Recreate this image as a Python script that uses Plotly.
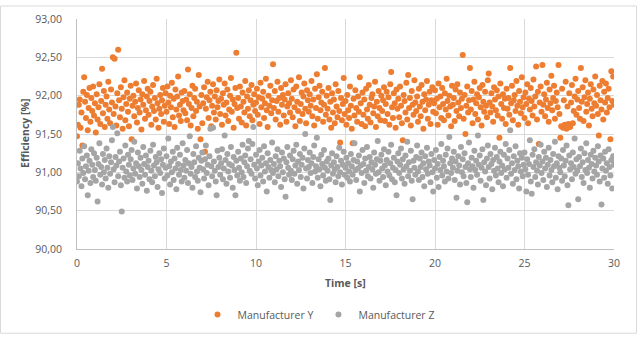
import numpy as np
import plotly.graph_objects as go

# ---- data ----
time_start = 0.0
time_end = 30.0

manufacturer_y = [
    91.47, 91.62, 91.88, 91.95, 91.58, 91.78, 91.35, 92.05, 92.24, 91.92, 91.71, 92.01, 91.55, 91.84, 92.10, 91.66, 91.97, 91.80, 92.12, 91.74,
    91.90, 91.52, 92.02, 91.69, 91.85, 92.15, 91.63, 91.93, 92.35, 91.77, 92.06, 91.59, 91.88, 91.99, 91.70, 92.18, 91.82, 91.64, 92.08, 91.91,
    92.50, 91.76, 92.48, 91.86, 91.61, 92.03, 92.60, 91.94, 91.72, 92.11, 91.83, 91.57, 91.98, 92.20, 91.68, 91.89, 92.04, 91.79, 91.60, 91.96,
    92.13, 91.43, 91.87, 92.00, 91.73, 91.92, 92.16, 91.65, 91.84, 92.07, 91.78, 91.95, 91.56, 92.02, 91.88, 92.19, 91.70, 91.81, 91.99, 92.09,
    91.75, 91.93, 92.05, 91.62, 91.86, 92.14, 91.80, 91.97, 91.69, 92.22, 91.90, 91.58, 91.83, 92.01, 91.76, 91.94, 92.10, 91.66, 91.87, 92.03,
    91.79, 92.12, 91.91, 91.63, 92.00, 91.85, 92.17, 91.72, 91.96, 91.59, 92.08, 91.82, 91.99, 92.25, 91.74, 91.88, 91.67, 92.04, 91.93, 91.81,
    92.06, 91.77, 91.95, 91.68, 92.34, 91.89, 92.02, 91.61, 91.84, 92.13, 91.73, 91.97, 92.09, 91.80, 91.92, 91.57, 92.27, 91.86, 91.43, 92.01,
    91.64, 91.90, 92.11, 91.27, 91.83, 91.98, 92.18, 91.71, 91.94, 92.05, 91.60, 91.87, 92.15, 91.78, 91.99, 91.69, 92.07, 91.85, 91.93, 92.21,
    91.76, 91.96, 91.62, 92.03, 91.88, 92.16, 91.74, 91.91, 92.08, 91.67, 91.82, 92.00, 92.23, 91.79, 91.95, 91.58, 91.89, 92.10, 92.56, 91.84,
    91.97, 91.70, 92.12, 91.86, 91.65, 92.04, 91.92, 91.78, 92.19, 91.61, 91.99, 91.83, 92.07, 91.73, 91.94, 92.14, 91.68, 91.88, 92.02, 91.80,
    91.91, 92.09, 91.75, 91.98, 91.63, 92.17, 91.85, 91.96, 92.05, 91.71, 91.90, 92.22, 91.81, 91.59, 92.00, 91.87, 92.13, 91.77, 91.94, 92.41,
    91.84, 92.06, 91.69, 91.93, 92.18, 91.79, 91.97, 91.62, 92.10, 91.88, 92.01, 91.74, 91.95, 92.15, 91.66, 91.86, 92.03, 91.90, 91.78, 92.20,
    91.96, 91.72, 92.08, 91.85, 91.60, 92.12, 91.92, 91.80, 92.24, 91.67, 91.89, 92.04, 91.76, 91.99, 92.16, 91.83, 91.64, 92.07, 91.94, 91.79,
    92.02, 91.87, 92.19, 91.73, 91.95, 91.61, 92.09, 91.84, 92.28, 91.70, 91.98, 92.13, 91.81, 91.91, 92.05, 91.66, 91.88, 92.36, 91.75, 92.00,
    91.83, 92.10, 91.69, 91.92, 91.58, 92.03, 91.78, 91.95, 91.64, 92.15, 91.86, 91.72, 92.06, 91.80, 91.39, 91.97, 91.68, 91.89, 92.23, 91.76,
    91.93, 91.62, 92.01, 91.81, 91.71, 92.12, 91.87, 91.57, 91.38, 91.96, 91.74, 92.07, 91.84, 91.66, 91.99, 91.79, 92.24, 91.90, 91.63, 92.04,
    91.75, 91.95, 91.60, 92.09, 91.82, 91.70, 92.14, 91.88, 91.65, 91.97, 92.02, 91.77, 91.86, 92.18, 91.59, 91.92, 91.73, 92.06, 91.84, 91.68,
    92.00, 91.80, 91.94, 92.11, 91.67, 91.89, 92.05, 91.76, 91.98, 91.62, 92.15, 92.31, 91.85, 91.71, 92.03, 91.90, 91.58, 92.08, 91.83, 91.96,
    91.72, 92.12, 91.87, 91.64, 91.42, 92.01, 91.93, 91.78, 92.17, 91.69, 92.27, 91.84, 91.97, 91.61, 92.06, 91.88, 91.75, 92.20, 91.91, 91.80,
    91.99, 91.66, 92.09, 91.86, 91.73, 92.14, 91.92, 91.57, 92.02, 91.81, 91.95, 92.19, 91.70, 91.88, 92.05, 91.63, 91.94, 92.11, 91.79, 91.90,
    92.07, 91.77, 91.96, 91.62, 92.16, 91.85, 91.99, 91.71, 92.10, 91.89, 91.68, 92.03, 91.82, 92.22, 91.93, 91.74, 92.00, 91.86, 91.60, 92.13,
    91.88, 91.97, 91.67, 92.08, 91.80, 92.15, 91.91, 91.73, 92.04, 91.84, 91.96, 92.53, 91.70, 92.01, 91.50, 91.87, 92.12, 91.78, 91.94, 92.36,
    91.82, 92.06, 91.64, 91.95, 92.18, 91.76, 91.90, 92.02, 91.69, 91.98, 92.10, 91.85, 91.61, 92.14, 91.92, 91.79, 92.05, 91.87, 91.72, 92.20,
    92.29, 91.91, 91.78, 92.03, 91.86, 91.66, 92.11, 91.95, 91.81, 92.07, 91.74, 91.99, 91.45, 92.16, 91.89, 91.70, 92.02, 91.84, 91.96, 91.63,
    92.09, 91.83, 91.97, 91.75, 92.36, 91.90, 92.13, 91.68, 91.94, 92.01, 91.80, 92.19, 91.87, 91.62, 92.06, 91.92, 91.77, 92.24, 91.85, 91.98,
    91.71, 92.04, 91.89, 92.15, 91.64, 91.96, 91.82, 92.10, 91.93, 91.74, 92.21, 91.86, 91.99, 92.38, 91.69, 92.05, 91.37, 91.91, 92.12, 91.79,
    92.40, 91.88, 92.02, 91.73, 91.95, 92.17, 91.84, 91.66, 92.08, 91.90, 92.26, 91.81, 91.97, 92.13, 91.70, 91.93, 92.04, 91.85, 92.40, 91.76,
    91.45, 91.60, 92.09, 91.58, 91.94, 91.62, 92.18, 91.57, 91.86, 91.63, 92.03, 91.59, 91.91, 92.14, 91.64, 91.80, 91.99, 92.22, 91.75, 91.95,
    92.06, 91.84, 91.70, 92.36, 91.92, 92.11, 91.67, 91.98, 92.20, 91.79, 91.89, 92.04, 91.61, 91.96, 92.15, 91.83, 91.73, 92.08, 91.90, 92.25,
    91.87, 92.01, 91.76, 91.48, 92.13, 91.94, 91.82, 92.19, 91.69, 92.05, 91.91, 92.16, 91.78, 91.97, 92.09, 91.85, 91.43, 92.32, 91.93, 92.25,
    91.88,
]

manufacturer_z = [
    90.88, 91.12, 90.95, 91.28, 91.05, 90.82, 91.18, 90.99, 91.34, 90.91, 91.08, 91.22, 90.70, 91.02, 91.15, 90.86, 91.30, 91.10, 90.94, 91.25,
    91.03, 90.89, 91.19, 90.62, 91.11, 91.38, 90.97, 91.07, 90.84, 91.24, 91.00, 91.16, 90.92, 91.31, 91.06, 90.80, 91.21, 90.98, 91.13, 91.42,
    91.59, 91.04, 90.87, 91.20, 91.09, 91.51, 90.95, 91.14, 91.27, 90.83, 90.49, 91.06, 91.18, 90.93, 91.35, 91.01, 90.88, 91.23, 91.10, 90.96,
    91.17, 91.29, 90.90, 91.05, 91.40, 90.98, 91.12, 90.79, 91.26, 91.08, 90.94, 91.19, 91.03, 90.85, 91.33, 91.11, 90.97, 91.22, 90.76, 91.07,
    91.15, 90.91, 91.28, 91.02, 90.87, 91.36, 91.09, 90.95, 91.20, 91.13, 90.81, 91.04, 91.25, 90.99, 91.17, 90.73, 91.10, 91.31, 90.92, 91.06,
    91.21, 90.96, 91.44, 91.08, 90.84, 91.14, 91.00, 91.27, 90.90, 91.18, 91.05, 90.78, 91.32, 91.11, 90.97, 91.23, 91.03, 90.88, 91.38, 91.09,
    90.93, 91.16, 91.02, 91.29, 90.86, 91.12, 91.47, 90.98, 91.07, 90.80, 91.24, 91.13, 90.94, 91.34, 91.01, 90.89, 91.19, 91.06, 90.74, 91.15,
    91.26, 91.04, 90.92, 91.17, 91.35, 90.99, 91.10, 90.83, 91.21, 91.57, 91.08, 90.95, 91.58, 91.14, 91.02, 90.88, 90.70, 91.28, 91.07, 91.19,
    90.97, 91.12, 91.30, 90.91, 91.05, 91.48, 91.16, 90.85, 91.24, 91.01, 91.11, 90.93, 91.33, 91.09, 90.80, 91.20, 91.03, 90.70, 91.15, 90.96,
    91.27, 91.06, 90.89, 91.18, 91.00, 91.36, 90.94, 91.13, 91.22, 90.86, 91.08, 91.31, 91.41, 91.02, 91.17, 90.98, 91.37, 91.59, 91.10, 90.92,
    91.23, 91.05, 90.83, 91.14, 91.29, 90.96, 91.09, 91.19, 90.88, 91.34, 91.01, 91.12, 90.75, 91.25, 91.07, 90.93, 91.16, 91.03, 91.39, 90.99,
    91.11, 90.87, 91.21, 91.04, 91.30, 90.95, 91.15, 91.08, 90.81, 91.26, 91.00, 91.18, 90.91, 90.68, 91.13, 91.33, 91.06, 90.97, 91.22, 91.02,
    90.90, 91.17, 91.28, 90.98, 91.09, 91.36, 90.85, 91.14, 91.03, 91.24, 90.94, 91.10, 91.19, 90.79, 91.31, 91.50, 91.05, 90.92, 91.16, 91.07,
    91.26, 90.99, 91.12, 90.86, 91.20, 91.35, 91.01, 91.08, 91.45, 90.93, 91.17, 91.04, 90.82, 91.23, 91.11, 90.96, 91.29, 91.06, 90.89, 91.14,
    91.02, 91.18, 90.91, 90.64, 91.09, 91.25, 90.98, 91.13, 91.04, 90.87, 91.21, 91.07, 90.95, 91.32, 91.00, 91.15, 90.84, 91.10, 91.27, 90.97,
    91.06, 91.19, 90.93, 91.12, 91.01, 90.88, 91.24, 91.08, 90.97, 91.16, 91.38, 91.03, 90.90, 91.14, 91.05, 91.22, 90.75, 91.09, 90.99, 91.29,
    91.11, 90.86, 91.18, 91.02, 91.33, 90.95, 91.07, 91.20, 90.92, 91.13, 91.04, 90.80, 91.26, 91.10, 90.98, 91.17, 91.41, 91.00, 90.89, 91.15,
    91.23, 91.05, 90.94, 91.30, 91.09, 90.83, 91.16, 91.01, 91.27, 90.96, 91.12, 91.36, 90.91, 91.06, 91.19, 90.87, 91.03, 90.70, 91.14, 91.25,
    90.99, 91.10, 91.31, 90.92, 91.17, 91.04, 90.85, 91.22, 91.08, 91.40, 90.95, 91.13, 91.02, 91.28, 90.89, 90.65, 91.15, 91.06, 90.97, 91.20,
    91.35, 91.01, 90.90, 91.18, 91.07, 91.26, 90.94, 91.12, 90.82, 91.21, 91.04, 91.32, 90.98, 91.14, 91.09, 90.87, 91.24, 91.00, 90.75, 91.16,
    91.05, 91.29, 90.93, 91.11, 90.81, 91.20, 91.03, 91.37, 90.96, 91.15, 91.08, 90.88, 91.23, 91.01, 91.31, 90.92, 91.46, 91.12, 90.99, 91.18,
    91.06, 91.27, 90.90, 91.14, 90.67, 91.02, 91.21, 91.09, 90.84, 91.33, 91.00, 91.17, 90.95, 91.25, 91.07, 90.86, 90.61, 91.12, 91.39, 91.04,
    90.94, 91.19, 91.08, 90.80, 91.28, 91.03, 91.15, 90.97, 91.48, 91.10, 91.22, 90.89, 91.06, 91.30, 90.64, 91.13, 91.01, 90.83, 91.18, 91.35,
    91.07, 90.92, 91.24, 91.11, 90.78, 91.16, 91.02, 91.32, 90.96, 91.20, 91.05, 90.87, 91.14, 91.27, 90.99, 91.09, 90.82, 91.23, 91.04, 91.37,
    90.93, 91.18, 91.06, 91.29, 91.55, 90.98, 91.12, 90.85, 91.21, 91.03, 91.34, 90.91, 91.15, 91.08, 90.79, 91.25, 91.01, 91.19, 90.95, 91.10,
    91.26, 91.04, 90.75, 91.17, 90.97, 91.11, 91.42, 90.88, 90.72, 91.23, 91.07, 91.30, 90.94, 91.13, 91.02, 90.84, 91.20, 91.09, 91.36, 90.99,
    91.14, 90.90, 91.27, 91.05, 91.19, 90.81, 91.10, 91.32, 90.96, 91.16, 91.03, 90.87, 91.24, 91.08, 91.40, 90.93, 91.12, 90.78, 91.21, 91.06,
    91.00, 91.18, 90.89, 91.29, 91.09, 90.95, 91.15, 91.35, 90.83, 90.57, 91.22, 91.04, 91.12, 90.91, 91.26, 91.07, 91.44, 90.98, 91.17, 91.02,
    90.65, 91.20, 91.08, 91.31, 90.94, 91.13, 90.86, 91.25, 91.03, 91.38, 90.99, 91.16, 91.06, 90.80, 91.23, 91.11, 90.92, 91.28, 91.01, 91.19,
    91.09, 90.97, 91.34, 91.14, 90.88, 91.22, 90.58, 91.05, 91.18, 90.93, 91.27, 91.02, 91.12, 90.85, 91.30, 91.07, 90.96, 91.16, 90.79, 91.21,
    91.10,
]

series_names = ["Manufacturer Y", "Manufacturer Z"]
x_ticks = [0, 5, 10, 15, 20, 25, 30]
y_ticks = [90.0, 90.5, 91.0, 91.5, 92.0, 92.5, 93.0]
x_title = "Time [s]"
y_title = "Efficiency [%]"

# ---- styling ----
colors = ["#ED7D31", "#A5A5A5"]
font_family = "Open Sans, DejaVu Sans, sans-serif"
text_color = "#595959"
grid_color = "#D9D9D9"

W, H = 637, 341
ml, mr, mt, mb = 77, 23, 14, 88
pw, ph = W - ml - mr, H - mt - mb

t_y = np.linspace(time_start, time_end, len(manufacturer_y))
t_z = np.linspace(time_start, time_end, len(manufacturer_z))

fig = go.Figure()
for name, tt, vals, col in [
    (series_names[0], t_y, manufacturer_y, colors[0]),
    (series_names[1], t_z, manufacturer_z, colors[1]),
]:
    fig.add_trace(go.Scatter(
        x=tt, y=vals, mode="markers", name=name,
        marker=dict(color=col, size=6, line=dict(width=0)),
    ))

def px_to_paper_x(px):
    return (px - ml) / pw

def py_to_paper_y(py):
    return (H - mb - py) / ph

fig.update_layout(
    width=W, height=H,
    margin=dict(l=ml, r=mr, t=mt, b=mb),
    paper_bgcolor="white", plot_bgcolor="white",
    separators=", ",
    font=dict(family=font_family, size=10, color=text_color),
    showlegend=True,
    legend=dict(
        orientation="h", x=px_to_paper_x(W / 2), xanchor="center",
        y=py_to_paper_y(321), yanchor="middle",
        font=dict(size=10.5, color=text_color),
        itemwidth=30, tracegroupgap=0,
    ),
    xaxis=dict(
        range=[time_start, time_end], tickvals=x_ticks,
        showgrid=True, gridcolor=grid_color, gridwidth=1,
        showline=True, linecolor="#BFBFBF", linewidth=1,
        zeroline=False, ticks="", tickfont=dict(size=10.5, color=text_color),
        ticklabelstandoff=4,
    ),
    yaxis=dict(
        range=[y_ticks[0], y_ticks[-1]], tickvals=y_ticks, tickformat=".2f",
        showgrid=True, gridcolor=grid_color, gridwidth=1,
        showline=True, linecolor="#BFBFBF", linewidth=1,
        zeroline=False, ticks="", tickfont=dict(size=10.5, color=text_color),
        ticklabelstandoff=12,
    ),
    annotations=[
        dict(text="<b>" + x_title + "</b>", xref="paper", yref="paper",
             x=0.5, y=py_to_paper_y(288), xanchor="center", yanchor="middle",
             showarrow=False, font=dict(size=10.5, color=text_color)),
        dict(text="<b>" + y_title + "</b>", xref="paper", yref="paper",
             x=px_to_paper_x(25), y=0.5, xanchor="center", yanchor="middle",
             textangle=-90, showarrow=False, font=dict(size=10.5, color=text_color)),
    ],
    shapes=[
        dict(type="rect", xref="paper", yref="paper",
             x0=px_to_paper_x(0.5), x1=px_to_paper_x(W - 0.5),
             y0=py_to_paper_y(H - 0.5), y1=py_to_paper_y(0.5),
             line=dict(color="#D9D9D9", width=1), layer="below"),
    ],
)

fig.write_html("out.html")
